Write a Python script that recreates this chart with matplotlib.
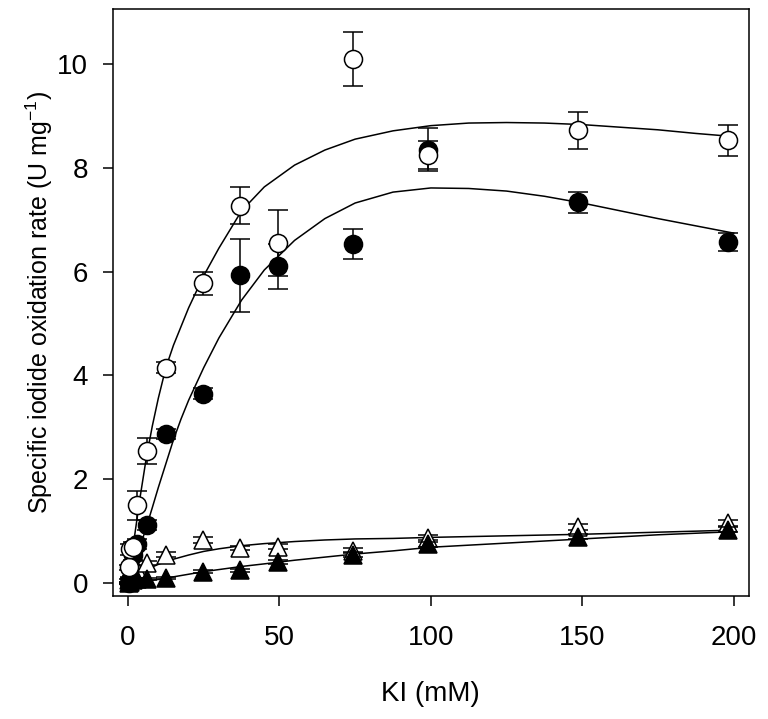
import numpy as np
import matplotlib
matplotlib.use("Agg")
import matplotlib.pyplot as plt

plt.rcParams['font.family'] = ['Liberation Sans', 'DejaVu Sans']
plt.rcParams['mathtext.fontset'] = 'custom'
plt.rcParams['mathtext.rm'] = 'Liberation Sans'
plt.rcParams['mathtext.it'] = 'Liberation Sans'

# KI concentrations (mM)
ki = [0.39, 0.77, 1.55, 3.09, 6.19, 12.4, 24.75, 37.1, 49.5, 74.25, 99, 148.5, 198]

# open circles
open_circ = [0.30, 0.65, 0.70, 1.50, 2.55, 4.15, 5.77, 7.27, 6.55, 10.10, 8.25, 8.72, 8.53]
open_circ_err = [0.05, 0.10, 0.10, 0.28, 0.25, 0.10, 0.22, 0.35, 0.63, 0.52, 0.27, 0.36, 0.30]

# filled circles
fill_circ = [0.00, 0.05, 0.55, 0.75, 1.12, 2.87, 3.65, 5.93, 6.10, 6.53, 8.35, 7.33, 6.57]
fill_circ_err = [0.02, 0.05, 0.10, 0.10, 0.10, 0.10, 0.10, 0.70, 0.43, 0.28, 0.42, 0.20, 0.17]

# open triangles
open_tri = [0.05, 0.10, 0.15, 0.28, 0.38, 0.55, 0.83, 0.67, 0.70, 0.62, 0.87, 1.08, 1.15]
open_tri_err = [0.02, 0.02, 0.03, 0.03, 0.04, 0.04, 0.05, 0.04, 0.05, 0.05, 0.05, 0.06, 0.06]

# filled triangles
fill_tri = [0.00, 0.02, 0.05, 0.07, 0.08, 0.10, 0.22, 0.25, 0.40, 0.55, 0.75, 0.89, 1.03]
fill_tri_err = [0.01, 0.01, 0.01, 0.02, 0.02, 0.02, 0.03, 0.03, 0.04, 0.04, 0.05, 0.05, 0.05]

# fitted curves
fit_x_a = [0, 1, 2, 4, 6, 8, 10, 12.5, 15, 20, 25, 30, 37.5, 45, 55, 65, 75, 87.5,
           100, 112.5, 125, 137.5, 150, 162.5, 175, 187.5, 200]
fit_open_circ = [0, 0.42, 0.84, 1.66, 2.40, 3.02, 3.56, 4.15, 4.58, 5.30, 5.92, 6.45, 7.17,
                 7.63, 8.05, 8.34, 8.55, 8.71, 8.81, 8.86, 8.87, 8.86, 8.83, 8.78, 8.73,
                 8.66, 8.60]

fit_x_b = [0, 2, 4, 6, 8, 10, 12.5, 15, 17.5, 20, 25, 30, 37.5, 45, 55, 65, 75, 87.5,
           100, 112.5, 125, 137.5, 150, 162.5, 175, 187.5, 200]
fit_fill_circ = [0, 0.34, 0.70, 1.07, 1.45, 1.84, 2.30, 2.76, 3.16, 3.52, 4.15, 4.72, 5.45,
                 6.03, 6.60, 7.02, 7.32, 7.53, 7.61, 7.60, 7.55, 7.45, 7.32, 7.17, 7.02,
                 6.88, 6.74]

fit_x_c = [0, 2, 4, 6, 8, 10, 12.5, 15, 20, 25, 30, 37.5, 45, 55, 65, 75, 87.5, 100,
           125, 150, 175, 200]
fit_open_tri = [0, 0.10, 0.18, 0.25, 0.31, 0.36, 0.41, 0.46, 0.54, 0.61, 0.66, 0.72, 0.76,
                0.80, 0.83, 0.85, 0.86, 0.88, 0.91, 0.94, 0.98, 1.02]

fit_x_d = [0, 5, 10, 15, 20, 25, 30, 37.5, 45, 55, 65, 75, 87.5, 100, 112.5, 125, 137.5,
           150, 162.5, 175, 187.5, 200]
fit_fill_tri = [0, 0.03, 0.07, 0.12, 0.17, 0.22, 0.26, 0.32, 0.37, 0.44, 0.50, 0.56, 0.62,
                0.69, 0.73, 0.77, 0.81, 0.85, 0.89, 0.93, 0.96, 0.99]

fig = plt.figure(figsize=(7.68, 7.19), dpi=100)
ax = fig.add_axes([0.147, 0.171, 0.828, 0.816])

lw = 1.1
ax.plot(fit_x_a, fit_open_circ, color='black', lw=lw, zorder=2)
ax.plot(fit_x_b, fit_fill_circ, color='black', lw=lw, zorder=2)
ax.plot(fit_x_c, fit_open_tri, color='black', lw=lw, zorder=2)
ax.plot(fit_x_d, fit_fill_tri, color='black', lw=lw, zorder=2)

common = dict(color='black', ecolor='black', elinewidth=lw, capsize=7, capthick=lw,
              linestyle='none', markeredgewidth=1.1, markeredgecolor='black')

ax.errorbar(ki, open_tri, yerr=open_tri_err, marker='^', markersize=12.5,
            markerfacecolor='white', zorder=3, **common)
ax.errorbar(ki, fill_tri, yerr=fill_tri_err, marker='^', markersize=12.5,
            markerfacecolor='black', zorder=4, **common)
ax.errorbar(ki, fill_circ, yerr=fill_circ_err, marker='o', markersize=13,
            markerfacecolor='black', zorder=5, **common)
ax.errorbar(ki, open_circ, yerr=open_circ_err, marker='o', markersize=13,
            markerfacecolor='white', zorder=6, **common)

ax.set_xlim(-5, 205)
ax.set_ylim(-0.25, 11.05)
ax.set_xticks([0, 50, 100, 150, 200])
ax.set_yticks([0, 2, 4, 6, 8, 10])
ax.tick_params(direction='out', length=7, width=1.1, labelsize=20)
ax.tick_params(axis='x', pad=13.5)
ax.tick_params(axis='y', pad=11)
for s in ax.spines.values():
    s.set_linewidth(1.1)

ax.set_xlabel('KI (mM)', fontsize=20, va='center')
ax.set_ylabel('Specific iodide oxidation rate (U mg$^{-1}$)', fontsize=18, va='center')
ax.xaxis.set_label_coords(0.5, -0.167)
ax.yaxis.set_label_coords(-0.115, 0.5)

fig.savefig('out.png', dpi=100)
